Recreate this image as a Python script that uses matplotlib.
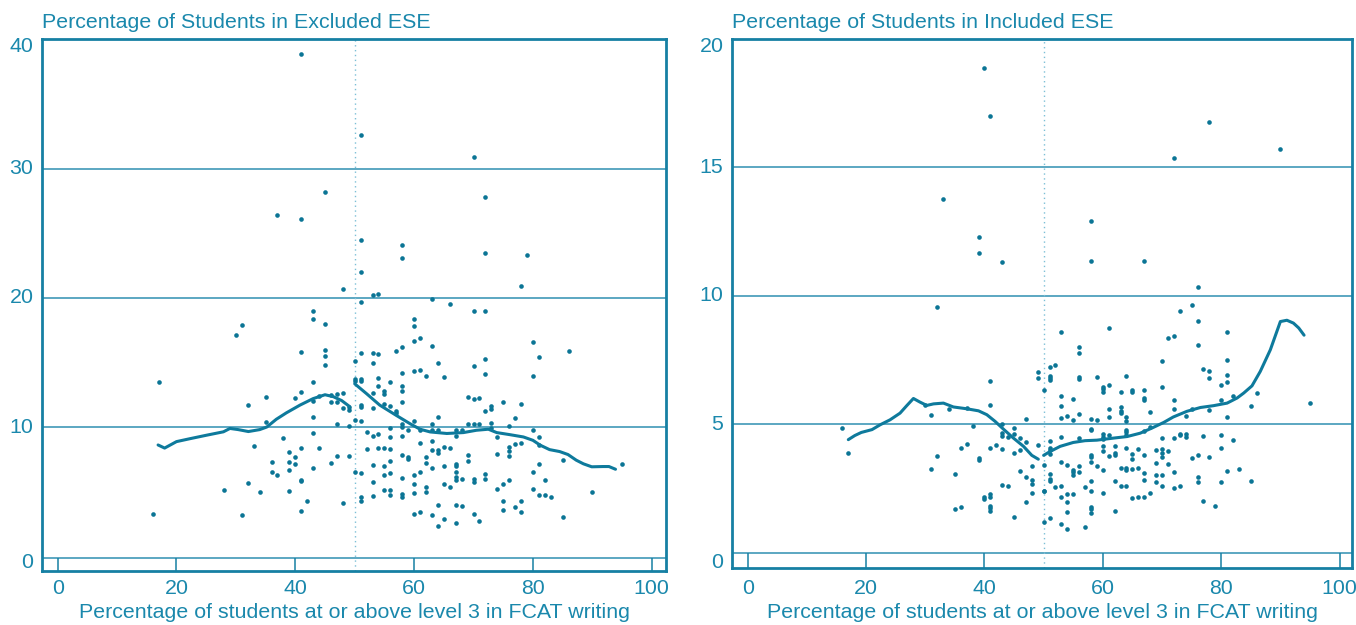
import matplotlib
matplotlib.use("Agg")
import matplotlib.pyplot as plt
from matplotlib.transforms import blended_transform_factory
import numpy as np

# ---------------- data ----------------
excl_x = [41, 51, 70, 45, 72, 37, 41, 51, 58, 58, 72, 79, 51,
          48, 78, 53, 54, 63, 51, 66, 70, 72, 60, 60, 61, 60, 63, 80, 86, 81, 58, 57, 51, 53, 54, 50, 53, 70, 72, 72,
          64, 60, 61, 58, 62, 65, 80, 50, 50, 51, 51, 54, 53, 54, 55, 55, 56, 58, 58, 46, 47, 48, 46, 47, 48, 49, 49,
          51, 51, 53, 55, 56, 57, 57, 58, 50, 51, 49, 47, 69, 70, 71, 75, 78, 73, 73, 72, 77, 64, 60, 58, 58, 59, 61,
          63, 63, 64, 67, 68, 69, 70, 71, 73, 73, 76, 80, 81, 81, 52, 53, 54, 56, 56, 58, 67, 61, 63, 74, 77, 78, 52,
          54, 55, 56, 62, 63, 64, 64, 65, 66, 69, 69, 74, 76, 76, 76, 85, 47, 49, 53, 55, 56, 59, 59, 58, 62, 60, 61,
          63, 65, 67, 67, 67, 67, 67, 68, 70, 70, 72, 72, 75, 76, 80, 81, 82, 46, 50, 51, 55, 56, 53, 58, 62, 62, 60,
          60, 55, 56, 56, 53, 51, 51, 58, 58, 65, 66, 74, 80, 81, 82, 83, 75, 75, 78, 78, 77, 64, 67, 68, 61, 60, 63,
          65, 64, 67, 70, 71, 85, 48, 90, 95,
          43, 43, 45, 31, 30, 41, 45, 45, 45, 17, 43, 41, 35, 40, 32, 43, 44, 35, 43, 43, 38, 33, 41, 44, 39, 40, 36,
          39, 40, 39, 36, 37, 43, 41, 41, 32, 28, 34, 39, 42, 41, 16, 31]
excl_y = [38.9, 32.6, 30.9, 28.2, 27.8, 26.4, 26.1, 24.5, 24.1, 23.1, 23.5, 23.3, 22.0,
          20.7, 20.9, 20.2, 20.3, 19.9, 19.7, 19.5, 19.0, 19.0, 18.35, 17.86, 16.9, 16.65, 16.3, 16.55, 15.9, 15.4,
          16.2, 15.85, 15.75, 15.7, 15.65, 15.1, 14.95, 14.7, 15.3, 14.1, 14.95, 14.3, 14.4, 14.2, 13.95, 13.85,
          13.97, 13.69, 13.56, 13.69, 13.6, 13.8, 12.6, 13.2, 12.76, 12.58, 13.46, 13.2, 12.8, 12.45, 12.56, 12.66,
          11.94, 11.9, 11.5, 11.55, 11.3, 11.73, 11.55, 11.5, 11.8, 11.6, 11.24, 11.1, 11.9, 10.52, 10.5, 10.1, 10.24,
          12.3, 12.17, 12.27, 11.9, 11.8, 11.65, 11.4, 11.24, 10.73, 10.78, 10.45, 10.2, 10.0, 9.8, 9.8, 10.27, 9.8,
          9.8, 9.8, 9.75, 10.2, 10.2, 10.25, 10.3, 9.9, 10.1, 9.8, 9.2, 8.6, 9.6, 9.34, 9.46, 9.9, 9.23, 9.34, 9.34,
          8.77, 8.9, 9.2, 8.67, 8.74, 8.3, 8.4, 8.4, 8.28, 7.66, 8.2, 8.23, 8.0, 8.46, 8.36, 7.87, 7.35, 7.92, 8.46,
          8.15, 7.74, 7.43, 7.74, 7.79, 7.04, 6.97, 7.35, 7.66, 7.53, 7.87, 7.2, 6.27, 6.5, 6.8, 6.97, 7.15, 6.97,
          6.53, 6.14, 5.9, 5.99, 5.94, 5.76, 6.4, 5.96, 5.6, 5.86, 6.5, 7.15, 5.9, 7.25, 6.55, 6.45, 6.32, 6.45, 5.76,
          6.09, 5.34, 4.98, 5.6, 4.9, 5.16, 5.16, 4.7, 4.67, 4.55, 4.26, 4.83, 4.55, 5.55, 5.32, 5.2, 5.2, 4.7, 4.7,
          4.6, 4.3, 3.6, 4.3, 3.44, 3.82, 3.98, 3.93, 3.85, 3.44, 3.28, 3.2, 2.87, 2.33, 2.56, 3.26, 2.72, 3.05, 4.1,
          4.94, 7.16,
          19.0, 18.4, 18.0, 17.9, 17.1, 15.8, 16.0, 15.5, 14.8, 13.5, 13.5, 12.7, 12.35, 12.24, 11.7, 12.0, 12.4,
          10.4, 10.8, 9.5, 9.15, 8.56, 8.35, 8.35, 8.05, 7.7, 7.3, 7.3, 7.1, 6.65, 6.5, 6.3, 6.8, 5.9, 5.8, 5.7,
          5.13, 4.98, 5.05, 4.3, 3.5, 3.28, 3.2]

incl_x = [40, 41, 78, 90, 72, 33, 58, 39, 39, 43, 58, 67, 76, 16, 17, 95,
          32, 53, 56, 56, 52, 51, 51, 51, 51, 49, 49, 56, 56, 41, 50, 53, 53, 55, 41, 56, 31, 34, 37, 30, 53, 54, 55,
          47, 38, 43, 43, 43, 45, 45, 44, 46, 47, 42, 41, 37, 36, 43, 45, 46, 49, 51, 51, 51, 51, 53, 56, 32, 39, 39,
          48, 50, 53, 54, 55, 55, 55, 56, 56, 31, 35, 46, 47, 48, 48, 50, 50, 51, 51, 51, 52, 53, 53, 54, 54, 54, 55,
          48, 47, 43, 44, 41, 41, 40, 40, 41, 41, 41, 35, 36, 45, 50, 51, 53, 54,
          75, 73, 76, 61, 71, 72, 81, 76, 70, 77, 78, 78, 81, 81, 81, 59, 60, 60, 60, 61, 64, 65, 65, 67, 67, 67, 70,
          63, 72, 80, 80, 82, 86, 85, 61, 61, 63, 63, 63, 58, 59, 64, 64, 68, 72, 74, 75, 78, 81, 58, 58, 60, 60, 60,
          60, 61, 62, 64, 64, 64, 67, 68, 70, 72, 73, 73, 74, 74, 77, 80, 82, 80, 58, 58, 58, 59, 60, 60, 61, 62, 62,
          62, 63, 64, 64, 64, 65, 65, 65, 66, 66, 67, 67, 67, 69, 69, 69, 69, 70, 70, 70, 70, 70, 71, 71, 72, 72, 73,
          75, 76, 76, 76, 78, 77, 79, 80, 81, 83, 85, 57, 57, 58, 58, 58, 58, 58, 60, 62, 63, 64, 65, 66, 67, 68]
incl_y = [18.87, 17.0, 16.77, 15.7, 15.37, 13.78, 12.9, 12.3, 11.67, 11.33, 11.36, 11.36, 10.35, 4.88, 3.9, 5.83,
          9.55, 8.6, 8.0, 7.78, 7.3, 7.22, 6.88, 6.82, 6.74, 7.04, 6.79, 6.84, 6.76, 6.69, 6.34, 6.09, 5.7, 6.0, 5.75,
          5.42, 5.35, 5.62, 5.64, 5.74, 5.25, 5.33, 5.16, 5.2, 4.95, 5.0, 4.66, 4.57, 4.88, 4.64, 4.5, 4.48, 4.31,
          4.19, 4.08, 4.25, 4.07, 4.03, 3.9, 4.0, 4.2, 4.35, 4.1, 4.0, 3.86, 4.52, 4.48, 3.77, 3.69, 3.6, 3.39, 3.42,
          3.56, 3.42, 3.24, 3.15, 3.02, 3.37, 3.15, 3.25, 3.08, 3.18, 2.96, 2.83, 2.69, 2.43, 2.4, 3.09, 2.89, 2.8,
          2.56, 2.62, 2.19, 2.3, 1.99, 1.6, 2.29, 2.33, 1.99, 2.65, 2.59, 2.3, 2.2, 2.2, 2.1, 1.84, 1.75, 1.65, 1.72,
          1.78, 1.41, 1.2, 1.37, 1.15, 0.93,
          9.63, 9.41, 9.02, 8.75, 8.35, 8.45, 8.6, 8.1, 7.48, 7.14, 7.06, 6.79, 7.49, 6.92, 6.65, 6.83, 6.44, 6.36,
          6.28, 6.52, 6.9, 6.32, 6.26, 6.32, 6.01, 5.95, 6.45, 6.26, 5.97, 6.53, 5.97, 6.1, 6.23, 5.7, 5.6, 5.3, 5.66,
          5.52, 5.44, 5.23, 5.16, 5.3, 5.14, 5.5, 5.61, 5.34, 5.62, 5.56, 5.3, 4.82, 4.77, 4.61, 4.53, 4.43, 4.18, 4.6,
          4.17, 4.79, 4.7, 4.6, 4.73, 4.92, 4.46, 4.48, 4.64, 4.59, 4.64, 4.51, 4.55, 4.59, 4.4, 4.1, 3.8, 3.72, 3.55,
          3.37, 3.95, 3.24, 3.77, 3.89, 3.82, 2.8, 3.3, 4.08, 3.29, 3.24, 3.87, 3.65, 3.26, 4.04, 3.3, 3.81, 3.13,
          2.83, 3.99, 3.52, 3.04, 2.77, 4.06, 3.89, 3.74, 3.04, 2.6, 3.95, 3.46, 3.16, 2.52, 2.62, 3.68, 3.82, 2.96,
          2.78, 3.72, 2.03, 1.85, 2.76, 3.19, 3.28, 2.81, 2.56, 1.0, 2.8, 2.43, 1.81, 1.73, 1.55, 2.33, 1.63, 2.59,
          2.6, 2.14, 2.17, 2.19, 2.33]

# smoothed fits (below / above the 50% cutoff)
excl_fit_lo_x = [16.9, 18.0, 20.0, 22.3, 25.1, 27.9, 29.0, 30.4, 32.1, 34.0, 35.2, 36.8, 38.5, 40.8, 43.0, 45.0,
                 46.4, 47.8, 49.1]
excl_fit_lo_y = [8.61, 8.37, 8.87, 9.1, 9.37, 9.63, 9.89, 9.8, 9.65, 9.8, 10.0, 10.6, 11.1, 11.7, 12.2, 12.5,
                 12.35, 12.05, 11.6]
excl_fit_hi_x = [50.0, 52.0, 54.2, 57.0, 59.3, 61.0, 62.7, 65.5, 68.3, 70.5, 72.5, 73.9, 76.1, 78.4, 80.0, 81.2,
                 82.8, 84.5, 85.9, 87.3, 88.5, 89.9, 91.8, 92.8, 93.9]
excl_fit_hi_y = [13.35, 12.58, 11.7, 10.9, 10.26, 9.83, 9.62, 9.5, 9.57, 9.75, 9.83, 9.57, 9.41, 9.23, 8.97, 8.6,
                 8.25, 8.1, 7.87, 7.43, 7.15, 6.92, 6.94, 6.94, 6.73]
incl_fit_lo_x = [17.0, 18.1, 19.2, 21.0, 22.4, 24.05, 25.74, 26.87, 28.0, 29.1, 30.25, 31.4, 33.07, 34.75, 37.0,
                 39.0, 40.4, 41.8, 43.2, 44.9, 46.6, 48.0, 49.1]
incl_fit_lo_y = [4.41, 4.57, 4.69, 4.8, 4.99, 5.18, 5.44, 5.73, 6.01, 5.87, 5.74, 5.8, 5.83, 5.68, 5.61, 5.53,
                 5.38, 5.12, 4.82, 4.47, 4.15, 3.8, 3.65]
incl_fit_hi_x = [50.0, 51.1, 52.8, 55.0, 57.0, 59.0, 61.8, 64.1, 66.3, 68.3, 70.3, 71.9, 74.2, 76.5, 78.7, 81.0,
                 82.7, 83.8, 85.2, 86.6, 88.3, 90.0, 91.1, 92.2, 93.1, 94.0]
incl_fit_hi_y = [3.8, 3.95, 4.15, 4.3, 4.37, 4.39, 4.47, 4.53, 4.66, 4.86, 5.08, 5.29, 5.51, 5.66, 5.73, 5.83,
                 6.03, 6.22, 6.5, 7.06, 7.9, 9.0, 9.05, 8.94, 8.75, 8.47]

x_ticks = [0, 20, 40, 60, 80, 100]
excl_yticks = [0, 10, 20, 30, 40]
incl_yticks = [0, 5, 10, 15, 20]
titles = ["Percentage of Students in Excluded ESE", "Percentage of Students in Included ESE"]
xlabel = "Percentage of students at or above level 3 in FCAT writing"

# ---------------- style ----------------
plt.rcParams['font.family'] = ['Liberation Sans', 'DejaVu Sans']
TXT = '#1a88ac'
DOT = '#0b7595'
LINE = '#0e7a9c'
GRID = '#2f90b2'
SPINE = '#1680a3'
DOTTED = '#7cbfd6'
FS = 15.4

W, H = 1356, 625
fig = plt.figure(figsize=(W / 100, H / 100), dpi=100)

panels = [
    dict(rect=[42.3, 39.0, 666.0, 571.0], xlim=(-2.59, 102.4), ylim=(-1.15, 40.05), base=-0.15,
         x=excl_x, y=excl_y, lo=(excl_fit_lo_x, excl_fit_lo_y), hi=(excl_fit_hi_x, excl_fit_hi_y),
         yticks=excl_yticks, grid=[10, 20, 30], title=titles[0], title_x=41.7, ylab_x=33.5),
    dict(rect=[732.3, 38.5, 1352.0, 568.3], xlim=(-2.6, 102.1), ylim=(-0.59, 20.0), base=0.0,
         x=incl_x, y=incl_y, lo=(incl_fit_lo_x, incl_fit_lo_y), hi=(incl_fit_hi_x, incl_fit_hi_y),
         yticks=incl_yticks, grid=[5, 10, 15], title=titles[1], title_x=731.7, ylab_x=723.5),
]

for p in panels:
    l, t, r, b = p['rect']
    ax = fig.add_axes([l / W, 1 - b / H, (r - l) / W, (b - t) / H])
    ax.set_xlim(*p['xlim'])
    ax.set_ylim(*p['ylim'])
    for s in ax.spines.values():
        s.set_color(SPINE)
        s.set_linewidth(2.0)
    ax.set_xticks([])
    ax.set_yticks([])

    for g in p['grid']:
        ax.axhline(g, color=GRID, lw=1.1, zorder=1)
    ax.axhline(p['base'], color=GRID, lw=1.1, zorder=1)
    ax.vlines(x_ticks, p['ylim'][0], p['base'], color=SPINE, lw=1.1, zorder=1)
    ax.axvline(50, color=DOTTED, lw=1.0, ls=(0, (1, 2.5)), zorder=1)

    ax.scatter(p['x'], p['y'], s=11, color=DOT, linewidths=0, zorder=3)
    ax.plot(*p['lo'], color=LINE, lw=2.2, zorder=4, solid_capstyle='round')
    ax.plot(*p['hi'], color=LINE, lw=2.2, zorder=4, solid_capstyle='round')

    tr = blended_transform_factory(ax.transData, fig.transFigure)
    for xv in x_ticks:
        ax.text(xv, 1 - 588 / H, str(xv), transform=tr, ha='center', va='center',
                fontsize=FS, color=TXT, clip_on=False)
    trY = blended_transform_factory(fig.transFigure, ax.transData)
    for yv in p['yticks']:
        if yv == p['yticks'][-1]:
            fig.text(p['ylab_x'] / W, 1 - 46 / H, str(yv), ha='right', va='center', fontsize=FS, color=TXT)
        elif yv == 0:
            fig.text(p['ylab_x'] / W, 1 - 563 / H, str(yv), ha='right', va='center', fontsize=FS, color=TXT)
        else:
            ax.text(p['ylab_x'] / W, yv, str(yv), transform=trY, ha='right', va='center',
                    fontsize=FS, color=TXT, clip_on=False)

    fig.text(p['title_x'] / W, 1 - 22.7 / H, p['title'], ha='left', va='center', fontsize=FS, color=TXT)
    fig.text((l + r) / 2 / W, 1 - 613 / H, xlabel, ha='center', va='center', fontsize=FS, color=TXT)

fig.savefig("out.png", dpi=100)
